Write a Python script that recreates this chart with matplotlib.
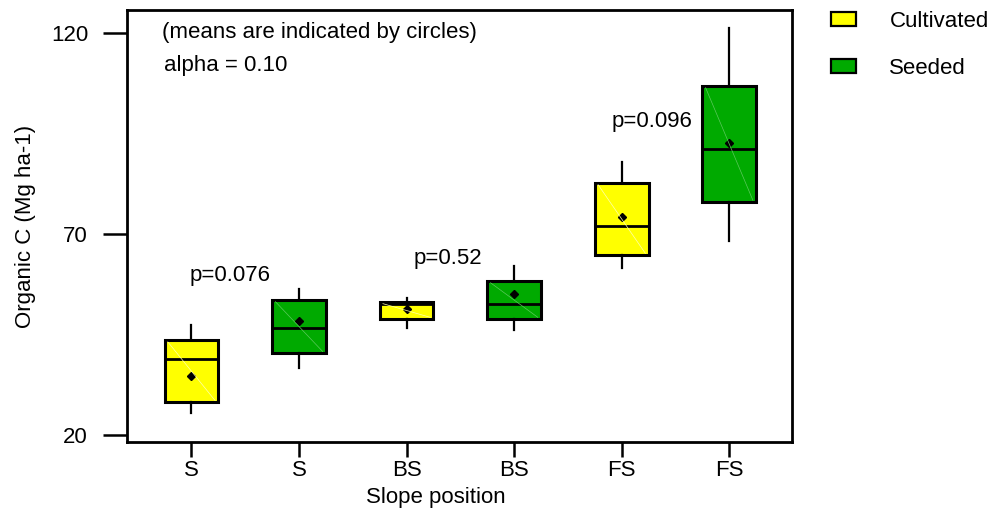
import matplotlib
matplotlib.use("Agg")
import matplotlib.pyplot as plt
from matplotlib.patches import Patch

plt.rcParams['font.family'] = ['Liberation Sans', 'DejaVu Sans']

# Box summaries of organic C (Mg ha-1) by slope position and land use
tick_labels = ["S", "S", "BS", "BS", "FS", "FS"]
treatment = ["Cultivated", "Seeded", "Cultivated", "Seeded", "Cultivated", "Seeded"]
whisker_low = [25.5, 36.7, 46.6, 46.1, 61.5, 68.3]
q1 = [28.2, 40.4, 48.9, 48.9, 64.8, 78.0]
median = [38.9, 46.6, 52.6, 52.6, 72.0, 91.1]
q3 = [43.6, 53.6, 53.1, 58.3, 82.7, 106.8]
whisker_high = [47.4, 56.3, 54.1, 62.0, 87.9, 121.2]
means = [34.7, 48.4, 51.3, 55.1, 74.2, 92.6]

p_labels = ["p=0.076", "p=0.52", "p=0.096"]
p_x = [1.36, 3.38, 5.28]
p_y = [59.8, 64.0, 97.9]

colors = {"Cultivated": "#FFFF00", "Seeded": "#00AA00"}
diag_colors = {"Cultivated": "#FFFFB0", "Seeded": "#5CC85C"}

FS = 16

fig = plt.figure(figsize=(9.95, 5.14), dpi=100)
ax = fig.add_axes([0.1276, 0.140, 0.668, 0.8405])

positions = list(range(1, len(tick_labels) + 1))
stats = []
for i in range(len(tick_labels)):
    stats.append(dict(med=median[i], q1=q1[i], q3=q3[i],
                      whislo=whisker_low[i], whishi=whisker_high[i],
                      mean=means[i], fliers=[]))

width = 0.5
bp = ax.bxp(stats, positions=positions, widths=width, patch_artist=True,
            showmeans=True, showcaps=False,
            boxprops=dict(linewidth=2.2, edgecolor="black"),
            medianprops=dict(color="black", linewidth=2.0),
            whiskerprops=dict(color="black", linewidth=1.6),
            meanprops=dict(marker="D", markerfacecolor="black",
                           markeredgecolor="black", markersize=4.5))
for box, t in zip(bp["boxes"], treatment):
    box.set_facecolor(colors[t])

# faint shading diagonal across each box
for pos, t, lo, hi in zip(positions, treatment, q1, q3):
    ax.plot([pos - width / 2 + 0.03, pos + width / 2 - 0.03], [hi - 0.4, lo + 0.4],
            color=diag_colors[t], linewidth=0.5, zorder=2.5)

for label, x, y in zip(p_labels, p_x, p_y):
    ax.text(x, y, label, ha="center", va="center", fontsize=FS)

ax.text(0.053, 0.947, "(means are indicated by circles)", transform=ax.transAxes,
        ha="left", va="center", fontsize=FS)
ax.text(0.056, 0.872, "alpha = 0.10", transform=ax.transAxes,
        ha="left", va="center", fontsize=FS)

ax.set_xlim(0.4, 6.58)
ax.set_ylim(18.3, 125.7)
ax.set_xticks(positions)
ax.set_xticklabels(tick_labels)
ax.set_yticks([20, 70, 120])
ax.tick_params(axis="y", length=17, width=1.8, pad=11, labelsize=FS)
ax.tick_params(axis="x", length=11, width=1.8, pad=2, labelsize=FS)
for s in ax.spines.values():
    s.set_linewidth(2.0)

ax.set_xlabel("Slope position", fontsize=FS, labelpad=4)
ax.xaxis.label.set_x(0.464)
ax.set_ylabel("Organic C (Mg ha-1)", fontsize=FS, labelpad=11)

handles = [Patch(facecolor=colors["Cultivated"], edgecolor="black", linewidth=1.6, label="Cultivated"),
           Patch(facecolor=colors["Seeded"], edgecolor="black", linewidth=1.6, label="Seeded")]
fig.legend(handles=handles, loc="upper left", bbox_to_anchor=(831 / 995, 1 - 11 / 514),
           frameon=False, fontsize=FS, handlelength=1.13, handleheight=0.58,
           handletextpad=1.5, labelspacing=1.15, borderpad=0, borderaxespad=0)

fig.savefig("out.png", dpi=100)
